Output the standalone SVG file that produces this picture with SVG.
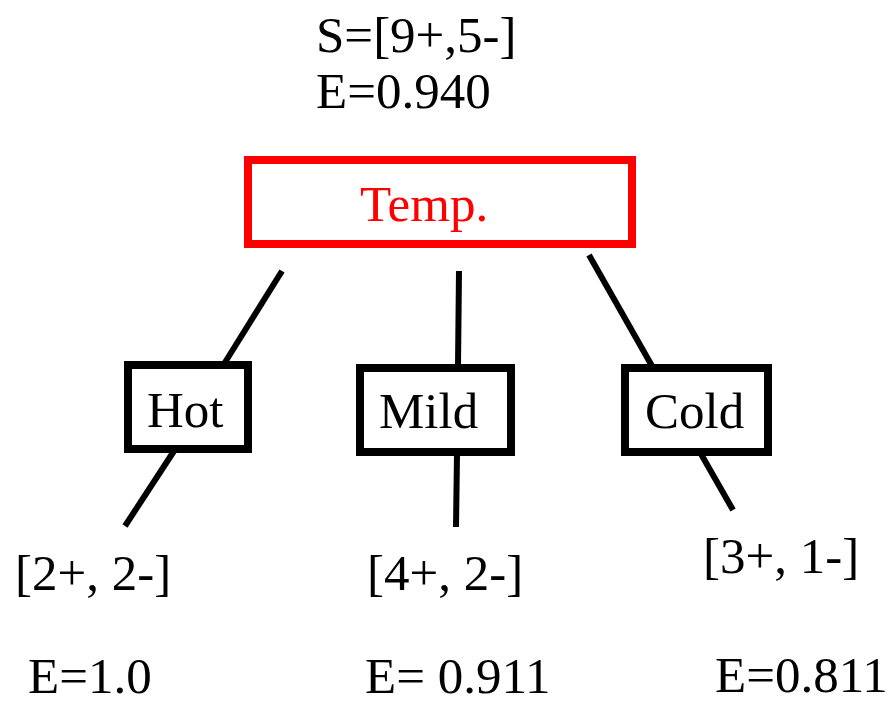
<svg xmlns="http://www.w3.org/2000/svg" width="894" height="704" viewBox="0 0 894 704">
<style>
text{font-family:"Liberation Serif","Times New Roman",serif;font-size:51px;fill:#000}
.box{fill:#fff;stroke:#000;stroke-width:8}
.root{fill:#fff;stroke:#f00;stroke-width:8}
.edge{stroke:#000;stroke-width:6;fill:none}
</style>
<rect width="894" height="704" fill="#fff"/>
<g id="labels-top">
<text x="316" y="52" font-size="52">S=[9+,5-]</text>
<text x="316" y="108" font-size="52">E=0.940</text>
</g>
<g id="connectors">
<line class="edge" x1="282" y1="271" x2="224" y2="364"/>
<line class="edge" x1="174" y1="451" x2="125" y2="526"/>
<line class="edge" x1="459" y1="271" x2="458" y2="366"/>
<line class="edge" x1="457" y1="454" x2="456" y2="527"/>
<line class="edge" x1="589" y1="255" x2="652" y2="366"/>
<line class="edge" x1="701" y1="454" x2="733" y2="510"/>
</g>
<g id="node-temp">
<rect class="root" x="248" y="160" width="384" height="84"/>
<text x="360" y="221" style="fill:#f00">Temp.</text>
</g>
<g id="node-hot">
<rect class="box" x="128" y="365" width="120" height="84"/>
<text x="147" y="427">Hot</text>
</g>
<g id="node-mild">
<rect class="box" x="360" y="368" width="151" height="84"/>
<text x="379" y="428">Mild</text>
</g>
<g id="node-cold">
<rect class="box" x="625" y="368" width="143" height="84"/>
<text x="645" y="428">Cold</text>
</g>
<g id="leaf-hot">
<text x="15" y="590">[2+, 2-]</text>
<text x="28" y="693">E=1.0</text>
</g>
<g id="leaf-mild">
<text x="367" y="590">[4+, 2-]</text>
<text x="365" y="693">E= 0.911</text>
</g>
<g id="leaf-cold">
<text x="703" y="573">[3+, 1-]</text>
<text x="715" y="692">E=0.811</text>
</g>
</svg>
